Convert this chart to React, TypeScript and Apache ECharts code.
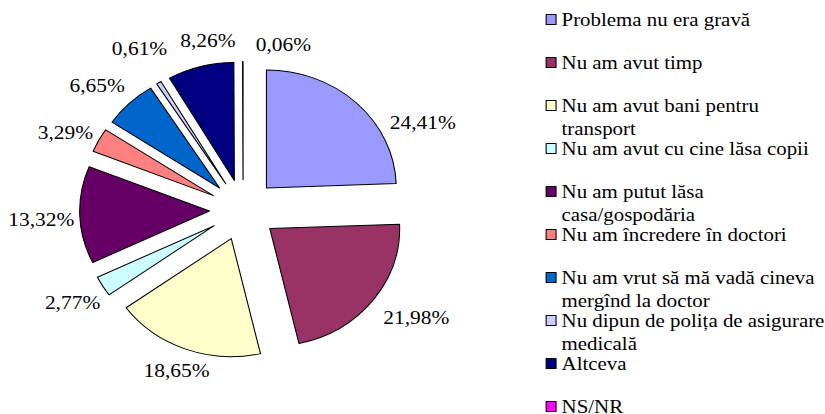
import React, { useEffect, useRef } from 'react';
import * as echarts from 'echarts';

// ---- data ----
const categories: string[] = [
  'Problema nu era gravă',
  'Nu am avut timp',
  'Nu am avut bani pentru\ntransport',
  'Nu am avut cu cine lăsa copii',
  'Nu am putut lăsa\ncasa/gospodăria',
  'Nu am încredere în doctori',
  'Nu am vrut să mă vadă cineva\nmergînd la doctor',
  'Nu dipun de polița de asigurare\nmedicală',
  'Altceva',
  'NS/NR',
];
const values: number[] = [24.41, 21.98, 18.65, 2.77, 13.32, 3.29, 6.65, 0.61, 8.26, 0.06];

// ---- styling ----
const colors: string[] = [
  '#9999FF', '#993366', '#FFFFCC', '#CCFFFF', '#660066',
  '#FF8080', '#0066CC', '#CCCCFF', '#000080', '#FF00FF',
];
// small label nudges (px) relative to the library-computed outside anchor
const labelNudge: [number, number][] = [
  [38, 42], [14, -2], [3, -9], [0, 0], [-3, 3],
  [-2, 7], [-7, 5], [-1, -7], [15, 5], [37, 15],
];

const CX = 221;
const CY = 210;
const R = 118;
const OFFSET = 30.6;
const LABEL_GAP = 32;
const FONT = 'Liberation Serif';

const fmtPct = (v: number) => v.toFixed(2).replace('.', ',') + '%';

export default function App() {
  const ref = useRef<HTMLDivElement>(null);

  useEffect(() => {
    if (!ref.current) return;
    const chart = echarts.init(ref.current, undefined, { renderer: 'svg' });
    const baseData = categories.map((n, i) => ({ name: n, value: values[i] }));
    chart.setOption({
      animation: false,
      backgroundColor: '#ffffff',
      legend: {
        orient: 'vertical',
        left: 496,
        top: -15.5,
        height: 700,
        padding: 0,
        itemWidth: 9,
        itemHeight: 69,
        itemGap: -27,
        icon: 'path://M0 0L0 0M0 29.5L9 29.5L9 39.5L0 39.5ZM0 69L0 69',
        itemStyle: { borderColor: '#000', borderWidth: 1 },
        textStyle: { fontFamily: FONT, fontSize: 19, lineHeight: 23, color: '#000' },
        formatter: (name: string) => (name.includes('\n') ? '\n' + name : name),
        selectedMode: false,
        data: categories.map((n) =>
          n.includes('\n') ? n : { name: n, textStyle: { lineHeight: 14 } }
        ),
      },
      series: [
        {
          // exploded slices
          type: 'pie',
          center: [CX, CY],
          radius: [0, R],
          startAngle: 90,
          clockwise: true,
          selectedMode: 'multiple',
          selectedOffset: OFFSET,
          silent: true,
          data: baseData.map((d, i) => ({
            ...d,
            selected: true,
            itemStyle: { color: colors[i] },
          })),
          itemStyle: { borderColor: '#000', borderWidth: 1 },
          label: { show: false },
          labelLine: { show: false },
          emphasis: { disabled: true },
          select: { itemStyle: { borderColor: '#000', borderWidth: 1 } },
        },
        {
          // transparent copy that carries the percentage labels
          type: 'pie',
          center: [CX, CY],
          radius: [0, R],
          startAngle: 90,
          clockwise: true,
          silent: true,
          avoidLabelOverlap: false,
          data: baseData,
          itemStyle: { color: 'rgba(0,0,0,0)', borderWidth: 0 },
          label: {
            show: true,
            position: 'outside',
            color: '#000',
            fontFamily: FONT,
            fontSize: 19.5,
            formatter: (p: any) => fmtPct(p.value),
          },
          labelLine: { show: true, length: LABEL_GAP, length2: 0, lineStyle: { opacity: 0 } },
          labelLayout: (p: any) => {
            const pts = p.labelLinePoints;
            if (!pts || pts.length < 2) return {};
            const dx = pts[1][0] - pts[0][0];
            const dy = pts[1][1] - pts[0][1];
            const len = Math.hypot(dx, dy) || 1;
            const d = OFFSET + R + LABEL_GAP;
            const nudge = labelNudge[p.dataIndex] || [0, 0];
            return {
              x: CX + (dx / len) * d + nudge[0],
              y: CY + (dy / len) * d + nudge[1],
              align: 'center',
              verticalAlign: 'middle',
            };
          },
          emphasis: { disabled: true },
        },
      ],
    });
    return () => chart.dispose();
  }, []);

  return (
    <div
      ref={ref}
      style={{
        position: 'fixed',
        left: 0,
        top: 0,
        width: 750,
        height: 414,
        transform: 'scaleX(1.1)',
        transformOrigin: '0 0',
      }}
    />
  );
}
